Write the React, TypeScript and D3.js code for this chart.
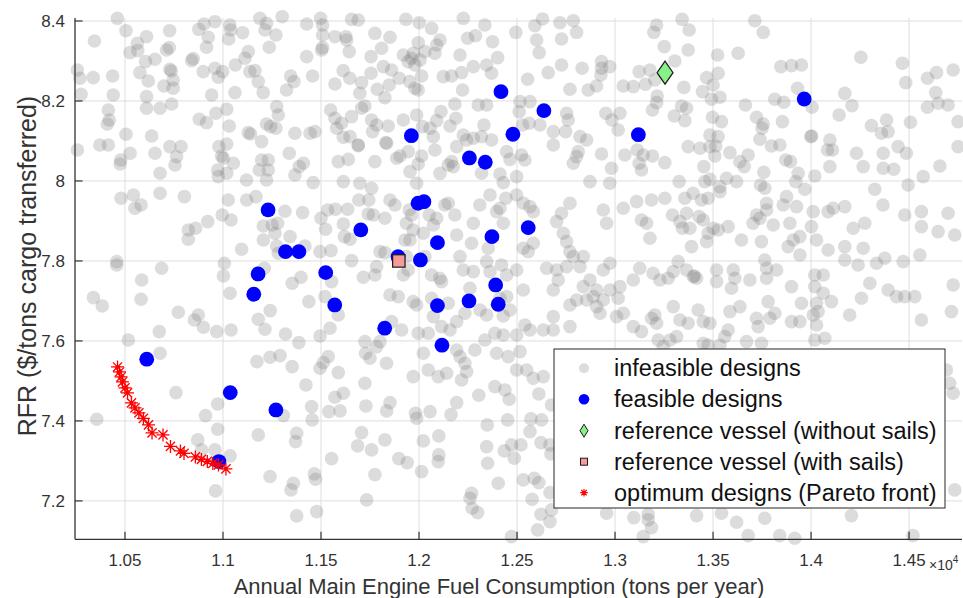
import React from 'react';
import * as d3 from 'd3';

const W = 963;
const H = 598;

// x values in tons per year (axis shows ×10^4), y values in $/tons
const xTicks = [10500, 11000, 11500, 12000, 12500, 13000, 13500, 14000, 14500];
const xTickLabels = ['1.05', '1.1', '1.15', '1.2', '1.25', '1.3', '1.35', '1.4', '1.45'];
const yTicks = [7.2, 7.4, 7.6, 7.8, 8.0, 8.2, 8.4];
const yTickLabels = ['7.2', '7.4', '7.6', '7.8', '8', '8.2', '8.4'];
const legendLabels = [
  'infeasible designs',
  'feasible designs',
  'reference vessel (without sails)',
  'reference vessel (with sails)',
  'optimum designs (Pareto front)',
];
const xLabel = 'Annual Main Engine Fuel Consumption (tons per year)';
const yLabel = 'RFR ($/tons cargo transferred)';

const infeasible: [number, number][] = [
  [10461,8.4067],[10505,8.3758],[10344,8.35],[10563,8.3442],[10610,8.3608],[10526,8.3208],[10565,8.3258],[10605,8.2983],[10653,8.3042],[10728,8.3758],[10712,8.3275],[10726,8.3333],[10840,8.3008],[10848,8.3058],[10877,8.3792],[10903,8.3925],[10925,8.3592],[10916,8.3342],[10959,8.3983],[11035,8.39],[11039,8.3775],[11029,8.355],[11100,8.3708],[11129,8.3233],[11112,8.3067],[11063,8.29],[11188,8.4067],[11222,8.3942],[11270,8.365],[11236,8.3342],[11302,8.4108],[11214,8.3775],
  [10257,8.2775],[10270,8.2567],[10338,8.2583],[10437,8.2625],[10576,8.2708],[10619,8.25],[10699,8.2375],[10746,8.2317],[10729,8.2792],[10736,8.275],[10746,8.2525],[10899,8.2733],[10959,8.2817],[10998,8.2733],[10976,8.2592],[11137,8.2733],[11163,8.2758],[11180,8.2483],[11205,8.2208],[11061,8.2208],[10276,8.2167],[10440,8.215],[10610,8.2108],[10942,8.215],[11324,8.2275],[11345,8.2625],[11362,8.2483],
  [10415,8.1775],[10410,8.1425],[10420,8.1525],[10610,8.1817],[10679,8.1817],[10738,8.1925],[10879,8.1542],[10916,8.1458],[10964,8.1692],[11019,8.1792],[11032,8.1375],[11129,8.1208],[11141,8.1175],[11197,8.0983],[11222,8.1425],[11243,8.1358],[11274,8.1858],[11282,8.165],[11270,8.1317],[11367,8.1192],[10505,8.1167],
  [10372,8.09],[10415,8.09],[10257,8.0775],[10636,8.1125],[10653,8.0692],[10729,8.0858],[10786,8.0858],[10763,8.0608],[10755,8.04],[10679,8.0192],[10478,8.0525],[10475,8.0425],[10526,8.0692],[10979,8.0858],[10993,8.0625],[11002,8.0567],[11019,8.0925],[11053,8.0442],[10973,8.0275],[10976,8.0108],[11019,8.0192],[11197,8.0525],[11231,8.0525],[11231,8.0275],[11185,8.0275],[11222,8.0025],[11338,8.0692],[11120,8.0025],[11367,8.015],[11389,8.0358],
  [11427,8.3925],[11498,8.4067],[11508,8.39],[11508,8.365],[11503,8.3275],[11508,8.3333],[11427,8.3108],[11571,8.3608],[11627,8.3608],[11631,8.3525],[11656,8.4042],[11690,8.4025],[11644,8.3233],[11755,8.3108],[11775,8.3692],[11809,8.3317],[11852,8.3592],[11933,8.4042],[12001,8.3958],[12064,8.3817],[12107,8.3525],[12090,8.34],[11996,8.3458],[12030,8.3233],[12081,8.3192],[11920,8.315],[11971,8.3192],[11962,8.3067],[12226,8.4067],[12248,8.3567],[12288,8.3633],[12336,8.39],[12375,8.3483],[12209,8.315],[12401,8.3083],[12494,8.3717],[12591,8.3883],[12600,8.3525],[12630,8.405],[12719,8.3958],[12727,8.355],[12787,8.4008],[12804,8.3717],[12613,8.3208],
  [11457,8.2625],[11571,8.2425],[11613,8.2758],[11647,8.2567],[11698,8.2192],[11755,8.2692],[11707,8.2458],[11787,8.2292],[11826,8.2083],[11818,8.2858],[11860,8.2775],[11848,8.24],[11899,8.2567],[11953,8.2483],[11979,8.2317],[11996,8.2275],[11945,8.2983],[11979,8.29],[12013,8.2625],[12005,8.3025],[12124,8.2608],[12166,8.2625],[12217,8.2708],[12277,8.2858],[12345,8.29],[12370,8.2692],[12222,8.2275],[12554,8.2542],[12659,8.2708],[12727,8.29],[12832,8.2817],[12770,8.2292],[12863,8.2275],[12906,8.2375],[12931,8.2983],[12931,8.2817],[12973,8.2858],[12928,8.265],[13042,8.2375],
  [11549,8.1775],[11571,8.1567],[11605,8.1442],[11656,8.1608],[11707,8.1817],[11724,8.1875],[11758,8.1525],[11784,8.14],[11763,8.1233],[11843,8.1375],[11444,8.1192],[11469,8.1233],[11580,8.1317],[11614,8.1092],[11648,8.1108],[11690,8.09],[11835,8.0942],[11920,8.1525],[11988,8.165],[12018,8.1358],[12056,8.1317],[12090,8.1508],[12073,8.1108],[12112,8.1733],[12183,8.1925],[12188,8.1567],[12158,8.1375],[12226,8.115],[12277,8.1067],[12319,8.1108],[12302,8.19],[12345,8.19],[12331,8.14],[12370,8.1025],[12515,8.1983],[12566,8.1983],[12511,8.1733],[12562,8.1442],[12528,8.14],[12617,8.14],[12685,8.1233],[12748,8.1233],[12753,8.1692],[12761,8.1525],[12821,8.1108],[12855,8.1025],[12953,8.1692],[13025,8.1692],[12984,8.1525],[13016,8.1275],
  [11588,8.0483],[11639,8.054],[11690,8.0883],[11775,8.0483],[11831,8.0958],[11903,8.0625],[11886,8.0567],[11945,8.0733],[11954,8.0233],[12013,8.0625],[11996,8.0425],[11988,7.9942],[12081,8.0775],[12107,8.019],[12149,8.04],[12166,8.0483],[12175,8.0358],[12192,8.0858],[12243,8.1025],[12319,8.0192],[12413,8.0175],[12447,8.0733],[12464,8.054],[12430,7.9958],[12498,8.0108],[12523,8.065],[12540,8.0525],[12685,8.09],[12804,8.0608],[12787,8.0442],[12812,8.0733],[12872,7.9983],[12931,8.0675],[12982,8.0317],[12973,7.9942],[13050,8.065],[11410,8.0442],[11460,7.9958],[11614,7.9983],[11698,7.9942],[11758,7.9817],
  [13212,8.39],[13198,8.3717],[13342,8.4042],[13378,8.3775],[13251,8.3358],[13373,8.3275],[13305,8.3],[13123,8.2733],[13178,8.2775],[13155,8.2417],[13203,8.2525],[13093,8.2358],[13215,8.2125],[13212,8.1958],[13191,8.1775],[13302,8.1625],[13356,8.1508],[13339,8.1875],[13365,8.1817],[13351,8.234],[13446,8.2233],[13467,8.2583],[13500,8.24],[13526,8.2692],[13523,8.315],[13628,8.3192],[13492,8.2042],[13535,8.2092],[13497,8.1592],[13543,8.1483],[13665,8.19],[13722,8.1592],[13756,8.1425],[13750,8.1317],[13739,8.1042],[13713,8.4008],[13756,8.3717],[13846,8.2858],[13900,8.2883],[13951,8.29],[13931,8.2317],[13815,8.2042],[13861,8.1967],[13854,8.1483],[13999,8.1108],[14003,8.1125],[14005,8.1842],[14096,8.1025],[14084,8.0775],[14109,8.0775],[14143,8.165],[14172,8.219],[14209,8.1883],[14254,8.3092],[14308,8.1383],[14359,8.1192],[14385,8.1525],[14393,8.1233],[14466,8.2942],[14483,8.2458],[14507,8.1467],[14594,8.2567],[14640,8.2708],[14725,8.2775],[14636,8.2208],[14594,8.1842],[14648,8.1942],[14699,8.19],[14750,8.1483],[14750,8.0858],[14444,8.0858],[14486,8.0692],[14368,8.0692],[14232,8.0692],[14266,8.0358],[14368,8.0317],[14422,8.0292],[14572,8.0108],[14657,8.0375],[14495,7.99],[14325,7.9792],[14096,8.0358],[14019,8.0125],[13968,7.9792],[13934,8.019],[13922,7.9983],[13871,8.0525],[13895,8.0483],[13798,8.0875],[13841,8.09],[13759,8.0217],[13742,7.99],[13764,7.9817],[13679,8.065],[13659,8.0358],[13637,8.0483],[13586,8.0708],[13569,8.0067],[13620,7.9983],[13535,7.9858],[13484,8.004],[13453,8.0358],[13458,7.9983],[13484,8.0858],[13514,8.0875],[13526,8.1108],[13484,8.115],[13509,8.0625],[13433,8.0817],[13373,8.0858],[13327,7.9983],[13254,8.0458],[13123,8.0442],[13135,8.0275],[13113,8.0775],[13144,8.065],[13191,8.0625],
  [10480,7.9567],[10543,7.965],[10679,7.9692],[10551,7.9317],[10582,7.94],[10803,7.9608],[11027,7.9525],[11121,7.9525],[11168,7.9608],[10996,7.915],[11041,7.9025],[10922,7.8983],[10823,7.8775],[10823,7.8542],[10860,7.8817],[11206,7.8875],[11251,7.89],[11279,7.8942],[11206,7.8525],[11265,7.8692],[11342,7.8608],[11316,7.9242],[11406,7.9208],[11095,7.8292],[11274,7.8375],[11282,7.8192],[11418,7.8375],[11500,7.9067],[11534,7.9275],[11574,7.9292],[11636,7.9292],[11523,7.8792],[11614,7.8925],[11619,7.8608],[11648,7.8542],[11693,7.9525],[11744,7.9525],[11741,7.9175],[11495,7.8233],[11551,7.8258],[10458,7.7983],[10458,7.79],[10687,7.7817],[10585,7.7525],[10582,7.7042],[10339,7.7083],[10384,7.6875],[11007,7.7942],[11002,7.7625],[11036,7.7192],[11211,7.7817],[11353,7.7442],[11398,7.7592],[11554,7.7483],[11656,7.8008],[11716,7.7592],[11520,7.7108],[11438,7.6983],[11588,7.665],[11241,7.6758],[11180,7.6542],[11214,7.6292],[10772,7.6717],[10854,7.6525],[10874,7.665],[10900,7.6342],[10968,7.6233],[11041,7.6275],[11319,7.6175],[11387,7.5958],[11495,7.6125],[11546,7.6317],[10675,7.6233],[10517,7.6025],[10679,7.5692],[11173,7.5483],[11240,7.5592],[11291,7.5633],[11353,7.5358],[11495,7.5317],[11537,7.5608],[11512,7.5458],[11588,7.5208],[11724,7.5983],[11727,7.5692],
  [11767,7.915],[11826,7.9067],[11852,7.9525],[11877,7.94],[11950,7.9275],[11962,7.915],[11936,7.8942],[11928,7.8525],[11954,7.8525],[11970,7.8775],[12022,7.8692],[12073,7.89],[12052,7.915],[12090,7.9067],[12132,7.94],[12149,7.9442],[12183,7.915],[12192,7.865],[12277,7.8942],[12268,7.8442],[12310,7.94],[12362,7.965],[12396,7.9233],[12413,7.9317],[12430,7.8942],[12443,7.9567],[12498,7.965],[12532,7.9442],[12566,7.9358],[12583,7.9233],[12702,7.8983],[12727,7.9192],[12770,7.9442],[12736,7.8692],[12753,7.8483],[12940,7.9275],[12957,7.8942],[13042,7.9317],[13110,7.9483],[13135,7.9025],[13161,7.8942],[13178,7.8567],[13186,7.9525],
  [11801,7.8233],[11826,7.8208],[11784,7.7858],[11775,7.765],[11920,7.765],[11945,7.7775],[11936,7.8108],[12030,7.8108],[12064,7.765],[12106,7.7567],[12115,7.7483],[12209,7.8108],[12226,7.7775],[12277,7.7733],[12345,7.7983],[12353,7.8317],[12362,7.7733],[12421,7.79],[12447,7.765],[12498,7.7775],[12532,7.8317],[12557,7.8233],[12583,7.8442],[12651,7.7817],[12702,7.7775],[12710,7.7525],[12753,7.7858],[12770,7.8233],[12787,7.8108],[12838,7.8108],[12821,7.7858],[12838,7.7358],[12872,7.7525],[12906,7.7275],[12940,7.7775],[12974,7.7942],[13025,7.7358],[13016,7.7067],[13093,7.7525],[13126,7.7817],[13194,7.7692],[13229,7.7525],
  [11852,7.715],[11894,7.7108],[11970,7.6983],[11988,7.69],[12064,7.7067],[12149,7.6942],[12234,7.6692],[12260,7.7317],[12311,7.6775],[12345,7.665],[12413,7.7067],[12447,7.7108],[12464,7.6775],[12430,7.6625],[12532,7.7275],[12540,7.64],[12566,7.6275],[12634,7.6275],[12685,7.6275],[12685,7.7275],[12685,7.6608],[12770,7.69],[12770,7.6358],[12804,7.7025],[12855,7.7025],[12889,7.7108],[12906,7.6858],[12923,7.6692],[12940,7.7025],[12974,7.7275],[13008,7.6608],[13042,7.6692],[13093,7.6358],[13135,7.6233],[13186,7.6567],[13212,7.6442],[13203,7.665],[13220,7.6025],
  [11860,7.6483],[11911,7.6275],[11996,7.6192],[12047,7.6192],[12073,7.6608],[12115,7.6358],[12158,7.6275],[12192,7.6483],[12336,7.6025],[12387,7.6192],[12430,7.615],[12498,7.615],[12515,7.5733],[12455,7.5608],[12396,7.5692],[12285,7.5775],[12192,7.5775],[12209,7.5608],[12234,7.5442],[12243,7.5233],[12141,7.5192],[12098,7.5108],[12047,7.5275],[12022,7.5692],[11970,7.5108],[11834,7.5442],[11784,7.5858],[11801,7.5983],[11750,7.5567],[12634,7.5108],[12583,7.5067],[12549,7.5275],[12498,7.5275],
  [13254,7.9567],[13356,7.9567],[13398,7.9692],[13441,7.9525],[13475,7.9567],[13535,7.9733],[13293,7.915],[13331,7.8983],[13365,7.9192],[13344,7.8817],[13382,7.8817],[13429,7.9108],[13450,7.9025],[13475,7.8692],[13467,7.8483],[13501,7.8817],[13526,7.8775],[13577,7.8858],[13390,7.8358],[13645,7.8525],[13704,7.8942],[13722,7.915],[13739,7.9067],[13773,7.9442],[13773,7.9275],[13747,7.8483],[13807,7.89],[13858,7.94],[13875,7.9608],[13892,7.8942],[13926,7.9358],[13943,7.8608],[13909,7.8525],[13883,7.8358],[13943,7.815],[14011,7.9233],[14002,7.8858],[14028,7.8525],[14087,7.8275],[14087,7.9233],[14113,7.9317],[14172,7.9358],[14172,7.8358],[14215,7.8817],[14266,7.8317],[14274,7.8942],[14367,7.94],[14478,7.915],[14563,7.9233],[14563,7.8858],[14648,7.8733],[14699,7.9192],[14733,7.865],[14555,7.815],[14470,7.7983],[14334,7.7942],[14376,7.8067],[14240,7.79],[14172,7.8025],
  [13297,7.7733],[13322,7.7983],[13365,7.7775],[13399,7.7608],[13405,7.7625],[13416,7.7567],[13271,7.7567],[13518,7.7775],[13518,7.7483],[13603,7.7775],[13594,7.7317],[13611,7.7567],[13688,7.7525],[13773,7.7817],[13773,7.7567],[13824,7.7775],[13764,7.8025],[13900,7.7358],[14019,7.765],[14062,7.765],[14019,7.7358],[14062,7.7192],[14104,7.6983],[14028,7.6942],[14036,7.6733],[13951,7.6942],[14011,7.665],[14028,7.64],[13900,7.6483],[13943,7.6483],[13815,7.6692],[13781,7.6983],[13790,7.6567],[13730,7.6358],[13722,7.6567],[13637,7.6858],[13586,7.6733],[13577,7.6275],[13560,7.6108],[13484,7.6442],[13450,7.6483],[13424,7.6775],[13373,7.6442],[13331,7.6525],[13297,7.6858],[13314,7.6108],[13280,7.6025],[13246,7.5858],[13450,7.5942],[13475,7.59],[13535,7.59],[13671,7.5983],[13747,7.5942],[14019,7.6025],[14070,7.6067],[14197,7.665],[14300,7.7442],[14257,7.7067],[14393,7.7275],[14436,7.7108],[14478,7.7108],[14529,7.7108],[14563,7.6525],[14716,7.6733],[14725,7.74],[14690,7.5275],[14707,7.4942],
  [10356,7.4042],[10760,7.4708],[10911,7.4133],[10973,7.4425],[10973,7.3792],[10871,7.3525],[10891,7.3275],[10959,7.3275],[11036,7.3125],[10962,7.225],[11180,7.365],[11240,7.261],[11308,7.4133],[11376,7.3692],[11370,7.3483],[11423,7.49],[11452,7.4358],[11455,7.4025],[11554,7.3058],[11466,7.2675],[11472,7.2542],[11359,7.2442],[11347,7.2275],[11376,7.1625],[11478,7.1733],[11540,7.4233],[11571,7.4592],[11597,7.425],[11614,7.4692],[11687,7.3375],[11707,7.3708],[11729,7.4375],[11758,7.3275],[11775,7.2658],[11733,7.2025],[11826,7.3525],[11835,7.425],[11852,7.4458],[11724,7.4942],[12217,7.5025],[11897,7.3058],[11940,7.2958],[11982,7.4192],[11988,7.4067],[12022,7.35],[12013,7.2733],[12056,7.4233],[12101,7.3625],[12101,7.315],[12098,7.2983],[12163,7.4158],[12192,7.4458],[12268,7.2192],[12260,7.2067],[12271,7.1817],[12299,7.1708],[12305,7.4642],[12387,7.4858],[12438,7.4775],[12460,7.4542],[12348,7.39],[12345,7.3358],[12350,7.2942],[12404,7.2442],[12435,7.325],[12452,7.4025],[12486,7.3067],[12472,7.34],[12520,7.34],[12532,7.2525],[12566,7.3733],[12571,7.405],[12611,7.4675],[12625,7.4025],[12622,7.3458],[12588,7.2567],[12611,7.2458],[12668,7.34],[12676,7.44],[12673,7.3175],[12668,7.2208],[12577,7.2042],[12622,7.1667],[12668,7.1483],[12605,7.1275],[12472,7.1108],[12676,7.1775],
  [12957,7.1692],[13096,7.1583],[13169,7.1667],[13169,7.1525],[13186,7.1333],[13144,7.1108],[13416,7.1633],[13543,7.1692],[13620,7.1467],[13679,7.1133],[13764,7.1567],[13840,7.1133],[13917,7.1067],[14206,7.1633],[14520,7.1133],[14725,7.4692],[14733,7.2275],
];

const feasibleX = [12418, 12637, 13965, 13119, 11961, 12479, 12257, 12338, 11230, 11995, 12025, 11703, 12557, 12372, 12094, 11319, 11387, 11893, 12007, 11179, 11524, 11157, 11570, 12391, 12255, 12404, 12094, 11825, 12117, 10611, 11037, 11270, 10979];
const feasibleY = [8.2233, 8.1758, 8.205, 8.1158, 8.1133, 8.1168, 8.0575, 8.0468, 7.9275, 7.9443, 7.9483, 7.8775, 7.8833, 7.8608, 7.8458, 7.8233, 7.8233, 7.8108, 7.8025, 7.7675, 7.7708, 7.7168, 7.69, 7.74, 7.70, 7.6918, 7.6883, 7.6318, 7.5893, 7.5543, 7.4708, 7.4275, 7.2983];

const paretoX = [10462, 10472, 10480, 10487, 10500, 10513, 10533, 10551, 10571, 10594, 10620, 10638, 10694, 10732, 10783, 10801, 10859, 10890, 10920, 10948, 10977, 11015];
const paretoY = [7.535, 7.5225, 7.51, 7.4975, 7.4825, 7.47, 7.445, 7.4325, 7.42, 7.4063, 7.39, 7.37, 7.365, 7.3363, 7.325, 7.3188, 7.31, 7.3038, 7.2988, 7.2938, 7.29, 7.28];

const refWithoutSails: [number, number] = [13255, 8.2708];
const refWithSails: [number, number] = [11897, 7.8];

const FONT = "'Liberation Sans', Arial, Helvetica, sans-serif";
const AXIS = '#333333';
const GRID = '#dedede';

function asteriskPath(r: number) {
  const d = r * 0.707;
  return `M${-r},0L${r},0M0,${-r}L0,${r}M${-d},${-d}L${d},${d}M${-d},${d}L${d},${-d}`;
}
function diamondPath(w: number, h: number) {
  return `M0,${-h}L${w},0L0,${h}L${-w},0Z`;
}

export default function App() {
  const x = d3.scaleLinear().domain([10245, 14770]).range([75, 962]);
  const y = d3.scaleLinear().domain([7.104, 8.4075]).range([539.3, 18]);
  const left = 75, right = 962, top = 18, bottom = 539.3;

  const legendX = 554, legendY = 349, legendW = 391, legendH = 159;
  const rowY = [368.3, 399.3, 430.7, 461.7, 492.7];
  const mX = 584;

  return (
    <svg width={W} height={H} style={{ position: 'absolute', left: 0, top: 0, background: '#fff' }} fontFamily={FONT}>
      <rect x={0} y={0} width={W} height={H} fill="#fff" />
      {/* grid */}
      {xTicks.map((t) => (
        <line key={'gx' + t} x1={x(t)} x2={x(t)} y1={top} y2={bottom} stroke={GRID} strokeWidth={1} />
      ))}
      {yTicks.map((t) => (
        <line key={'gy' + t} x1={left} x2={right} y1={y(t)} y2={y(t)} stroke={GRID} strokeWidth={1} />
      ))}

      {/* infeasible */}
      <g>
        {infeasible.map((p, i) => (
          <circle key={'i' + i} cx={x(p[0])} cy={y(p[1])} r={6.8} fill="#7f7f7f" fillOpacity={0.27} />
        ))}
      </g>
      {/* feasible */}
      <g>
        {feasibleX.map((v, i) => (
          <circle key={'f' + i} cx={x(v)} cy={y(feasibleY[i])} r={7.4} fill="#0000ff" />
        ))}
      </g>
      {/* pareto */}
      <g>
        {paretoX.map((v, i) => (
          <path key={'p' + i} transform={`translate(${x(v)},${y(paretoY[i])})`} d={asteriskPath(6.5)} stroke="#ff0000" strokeWidth={1.3} fill="none" />
        ))}
      </g>
      {/* reference vessels */}
      <path transform={`translate(${x(refWithoutSails[0])},${y(refWithoutSails[1])})`} d={diamondPath(8, 11.5)} fill="#88f088" stroke="#1a1a1a" strokeWidth={1.2} />
      <rect x={x(refWithSails[0]) - 6.2} y={y(refWithSails[1]) - 6.2} width={12.4} height={12.4} fill="#f79a9a" stroke="#1a1a1a" strokeWidth={1.2} />

      {/* axes */}
      <line x1={left} x2={left} y1={top} y2={bottom} stroke={AXIS} strokeWidth={1.3} />
      <line x1={left} x2={right} y1={bottom} y2={bottom} stroke={AXIS} strokeWidth={1.3} />
      {xTicks.map((t, i) => (
        <g key={'xt' + t}>
          <line x1={x(t)} x2={x(t)} y1={bottom} y2={bottom - 7.5} stroke={AXIS} strokeWidth={1.2} />
          <text x={x(t)} y={565.5} textAnchor="middle" fontSize={17} fill="#333">{xTickLabels[i]}</text>
        </g>
      ))}
      {yTicks.map((t, i) => (
        <g key={'yt' + t}>
          <line x1={left} x2={left + 7.5} y1={y(t)} y2={y(t)} stroke={AXIS} strokeWidth={1.2} />
          <text x={65} y={y(t) + 6.5} textAnchor="end" fontSize={17} fill="#333">{yTickLabels[i]}</text>
        </g>
      ))}
      <text x={929} y={569.5} fontSize={14} fill="#333">
        ×10<tspan fontSize={10} dy={-7}>4</tspan>
      </text>
      <text x={499} y={594} textAnchor="middle" fontSize={22} fill="#333">{xLabel}</text>
      <text transform="translate(36,266) rotate(-90)" textAnchor="middle" fontSize={25} fill="#333">{yLabel}</text>

      {/* legend */}
      <rect x={legendX} y={legendY} width={legendW} height={legendH} fill="#fff" stroke="#262626" strokeWidth={1} />
      <circle cx={mX} cy={rowY[0]} r={5} fill="#7f7f7f" fillOpacity={0.27} />
      <circle cx={mX} cy={rowY[1]} r={5.3} fill="#0000ff" />
      <path transform={`translate(${mX},${rowY[2]})`} d={diamondPath(4, 6.5)} fill="#88f088" stroke="#1a1a1a" strokeWidth={1} />
      <rect x={mX - 3.5} y={rowY[3] - 3.5} width={7} height={7} fill="#f79a9a" stroke="#1a1a1a" strokeWidth={1} />
      <path transform={`translate(${mX},${rowY[4]})`} d={asteriskPath(3.8)} stroke="#ff0000" strokeWidth={1.2} fill="none" />
      {legendLabels.map((l, i) => (
        <text key={'l' + i} x={614} y={rowY[i] + 7.8} fontSize={23.5} fill="#111">{l}</text>
      ))}
    </svg>
  );
}
